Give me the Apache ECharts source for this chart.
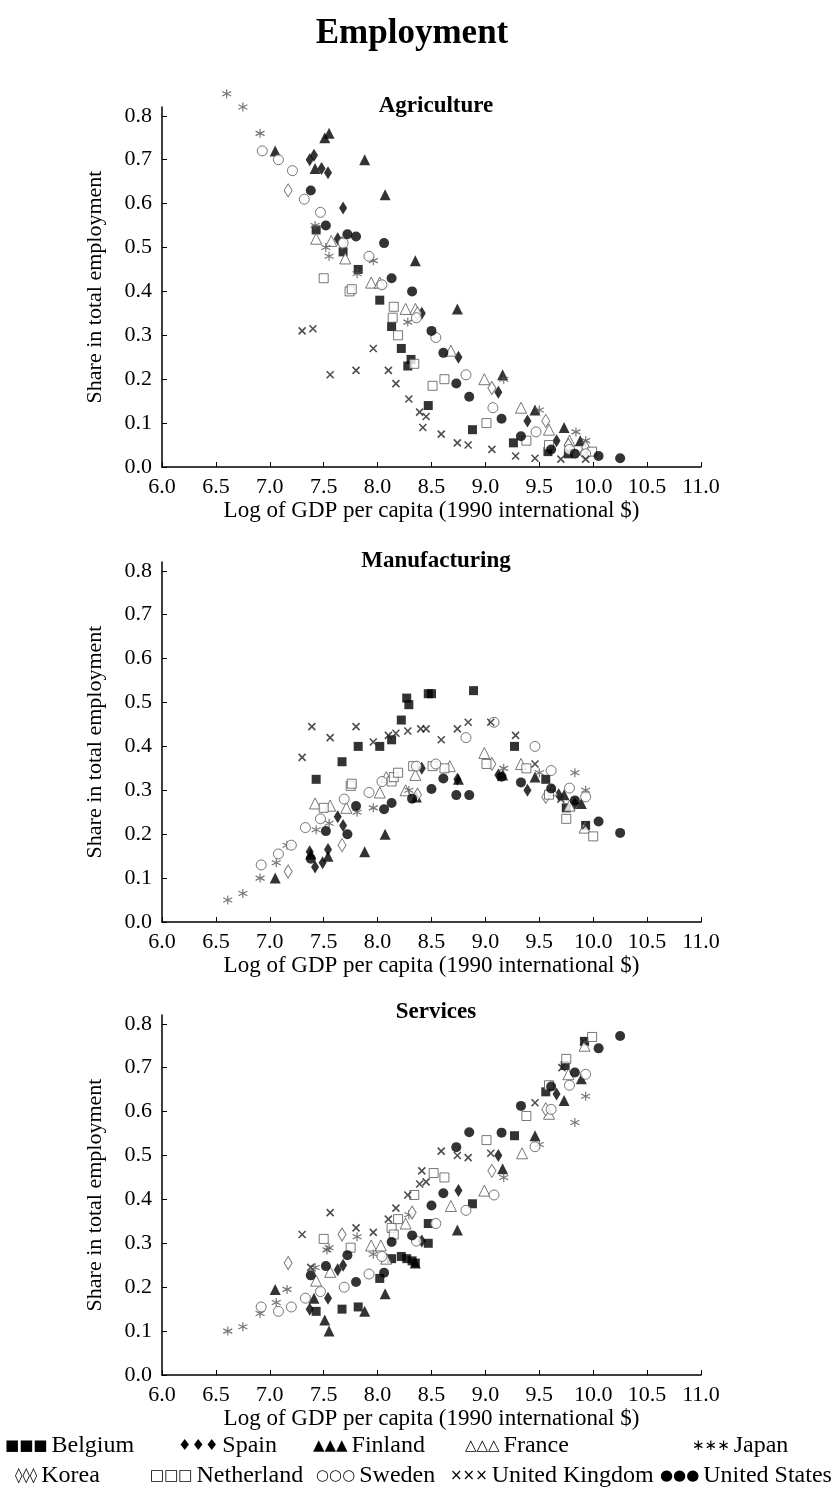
<!DOCTYPE html>
<html>
<head>
<meta charset="utf-8">
<script src="https://cdn.jsdelivr.net/npm/echarts@6/dist/echarts.min.js"></script>
<style>
html, body { margin: 0; padding: 0; background: #fff; }
#chart { width: 839px; height: 1488px; }
</style>
</head>
<body>
<div id="chart"></div>
<script>
// country names as in the legend
const countries = ['Belgium', 'Spain', 'Finland', 'France', 'Japan', 'Korea', 'Netherland', 'Sweden', 'United Kingdom', 'United States']
const xTicks = [6.0, 6.5, 7.0, 7.5, 8.0, 8.5, 9.0, 9.5, 10.0, 10.5, 11.0]
const yTicks = [0.0, 0.1, 0.2, 0.3, 0.4, 0.5, 0.6, 0.7, 0.8]
const panelTitles = ['Agriculture', 'Manufacturing', 'Services']

// ---- Agriculture [log GDP, share]
const agriBelgium = [[7.43,.54],[7.68,.49],[7.82,.45],[8.02,.38],[8.13,.32],[8.22,.27],[8.31,.245],[8.28,.23],[8.47,.14],[8.88,.085],[9.26,.055],[9.58,.035],[9.77,.03]]
const agriSpain = [[7.37,.70],[7.41,.71],[7.48,.68],[7.54,.67],[7.63,.52],[7.68,.59],[8.41,.35],[8.75,.25],[9.12,.17],[9.39,.105],[9.66,.06]]
const agriFinland = [[7.05,.72],[7.42,.68],[7.51,.75],[7.55,.76],[7.88,.70],[8.07,.62],[8.35,.47],[8.74,.36],[9.16,.21],[9.46,.13],[9.73,.09],[9.88,.06]]
const agriFrance = [[7.43,.52],[7.57,.515],[7.70,.475],[7.94,.42],[8.02,.42],[8.26,.36],[8.35,.36],[8.68,.265],[8.99,.20],[9.33,.135],[9.59,.085],[9.78,.06],[9.92,.04]]
const agriJapan = [[6.60,.85],[6.75,.82],[6.91,.76],[7.42,.55],[7.52,.50],[7.55,.48],[7.81,.44],[7.96,.47],[8.28,.33],[9.17,.20],[9.50,.13],[9.84,.08],[9.93,.06]]
const agriKorea = [[7.17,.63],[7.67,.51],[8.37,.35],[9.06,.18],[9.56,.105],[9.77,.05],[9.93,.045]]
const agriNetherland = [[7.50,.43],[7.74,.40],[7.76,.405],[8.14,.34],[8.15,.365],[8.19,.30],[8.34,.235],[8.51,.185],[8.62,.20],[9.01,.10],[9.38,.06],[9.59,.05],[9.99,.035]]
const agriSweden = [[6.93,.72],[7.08,.70],[7.21,.675],[7.32,.61],[7.47,.58],[7.68,.51],[7.92,.48],[8.04,.415],[8.36,.34],[8.54,.295],[8.82,.21],[9.07,.135],[9.47,.08],[9.78,.04],[9.93,.03]]
const agriUK = [[7.30,.31],[7.40,.315],[7.56,.21],[7.80,.22],[7.96,.27],[8.10,.22],[8.17,.19],[8.29,.155],[8.39,.125],[8.45,.115],[8.42,.09],[8.59,.075],[8.74,.055],[8.84,.05],[9.06,.04],[9.28,.025],[9.46,.02],[9.70,.018],[9.93,.018]]

// ---- Manufacturing
const manuBelgium = [[7.43,.325],[7.67,.365],[7.82,.40],[8.02,.40],[8.13,.415],[8.22,.46],[8.27,.51],[8.29,.495],[8.47,.52],[8.50,.52],[8.89,.527],[9.27,.40],[9.56,.325],[9.75,.26],[9.93,.22]]
const manuSpain = [[7.37,.16],[7.42,.125],[7.49,.135],[7.54,.165],[7.63,.24],[7.68,.22],[8.41,.35],[8.74,.325],[9.12,.335],[9.39,.30],[9.68,.29],[9.83,.27]]
const manuFinland = [[7.05,.10],[7.38,.155],[7.54,.15],[7.88,.16],[8.07,.20],[8.36,.285],[8.75,.325],[9.16,.335],[9.46,.33],[9.73,.29],[9.89,.27]]
const manuFrance = [[7.42,.27],[7.56,.265],[7.71,.26],[8.02,.295],[8.08,.33],[8.26,.30],[8.35,.335],[8.67,.355],[8.99,.385],[9.33,.36],[9.62,.30],[9.78,.265],[9.92,.215]]
const manuJapan = [[6.61,.05],[6.75,.065],[6.91,.10],[7.06,.135],[7.16,.175],[7.43,.21],[7.55,.225],[7.81,.25],[7.96,.26],[8.29,.30],[9.17,.35],[9.50,.34],[9.83,.34],[9.93,.30]]
const manuKorea = [[7.17,.115],[7.67,.175],[8.37,.29],[9.06,.36],[9.56,.285]]
const manuNetherland = [[7.50,.26],[7.75,.31],[7.76,.315],[8.13,.32],[8.15,.33],[8.19,.34],[8.33,.355],[8.51,.355],[8.62,.35],[9.01,.36],[9.38,.35],[9.59,.29],[9.75,.235],[10.00,.195]]
const manuSweden = [[6.92,.13],[7.08,.155],[7.20,.175],[7.33,.215],[7.47,.235],[7.69,.28],[7.92,.295],[8.04,.32],[8.36,.355],[8.54,.36],[8.82,.42],[9.08,.455],[9.46,.40],[9.61,.345],[9.78,.305],[9.93,.285]]
const manuUK = [[7.30,.375],[7.39,.445],[7.56,.42],[7.80,.445],[7.96,.41],[8.10,.425],[8.17,.43],[8.28,.435],[8.40,.44],[8.45,.44],[8.59,.415],[8.74,.44],[8.84,.455],[9.05,.455],[9.28,.425],[9.46,.36],[9.70,.28],[9.93,.22]]

// ---- Services
const servBelgium = [[7.43,.145],[7.67,.15],[7.82,.155],[8.02,.22],[8.13,.265],[8.22,.27],[8.27,.265],[8.32,.26],[8.35,.255],[8.47,.30],[8.47,.345],[8.88,.39],[9.27,.545],[9.56,.645],[9.74,.705],[9.92,.76]]
const servSpain = [[7.37,.15],[7.54,.175],[7.63,.24],[7.68,.25],[8.41,.305],[8.75,.42],[9.12,.50],[9.66,.64]]
const servFinland = [[7.05,.195],[7.41,.175],[7.51,.125],[7.55,.10],[7.88,.145],[8.07,.185],[8.35,.255],[8.74,.33],[9.16,.47],[9.46,.545],[9.73,.625],[9.89,.675]]
const servFrance = [[7.43,.215],[7.56,.235],[7.94,.295],[8.03,.295],[8.08,.265],[8.26,.345],[8.68,.385],[8.99,.42],[9.34,.505],[9.59,.595],[9.77,.685],[9.92,.75]]
const servJapan = [[6.61,.10],[6.75,.11],[6.91,.14],[7.06,.165],[7.16,.195],[7.42,.245],[7.53,.285],[7.55,.29],[7.81,.315],[7.96,.275],[8.29,.365],[9.17,.45],[9.50,.525],[9.83,.575],[9.93,.635]]
const servKorea = [[7.17,.255],[7.67,.32],[8.32,.37],[9.06,.465],[9.56,.605]]
const servNetherland = [[7.50,.31],[7.75,.29],[8.13,.335],[8.15,.32],[8.19,.355],[8.34,.41],[8.52,.46],[8.62,.45],[9.01,.535],[9.38,.59],[9.59,.66],[9.75,.72],[9.99,.77]]
const servSweden = [[6.92,.155],[7.08,.145],[7.20,.155],[7.33,.175],[7.47,.19],[7.69,.20],[7.92,.23],[8.04,.27],[8.36,.305],[8.54,.345],[8.82,.375],[9.08,.41],[9.46,.52],[9.61,.605],[9.78,.66],[9.93,.685]]
const servUK = [[7.30,.32],[7.38,.245],[7.56,.37],[7.80,.335],[7.96,.325],[8.10,.355],[8.17,.38],[8.28,.41],[8.39,.435],[8.45,.44],[8.41,.465],[8.59,.51],[8.74,.50],[8.84,.495],[9.05,.505],[9.46,.62],[9.71,.70],[9.91,.76]]

// ---- United States: same years in every panel
const gdpUS = [7.38, 7.52, 7.72, 7.80, 8.06, 8.13, 8.32, 8.50, 8.61, 8.73, 8.85, 9.15, 9.33, 9.61, 9.83, 10.05, 10.25]
const agriUS = [.63, .55, .53, .525, .51, .43, .40, .31, .26, .19, .16, .11, .07, .04, .03, .025, .02]
const manuUS = [.144, .207, .20, .264, .257, .271, .281, .303, .327, .289, .289, .331, .318, .304, .277, .229, .203]
const servUS = [.227, .248, .273, .212, .233, .303, .318, .386, .414, .519, .553, .552, .613, .657, .689, .744, .772]

const zip = (xs, ys) => xs.map((x, i) => [x, ys[i]])

const panels = [
    [agriBelgium, agriSpain, agriFinland, agriFrance, agriJapan, agriKorea, agriNetherland, agriSweden, agriUK, zip(gdpUS, agriUS)],
    [manuBelgium, manuSpain, manuFinland, manuFrance, manuJapan, manuKorea, manuNetherland, manuSweden, manuUK, zip(gdpUS, manuUS)],
    [servBelgium, servSpain, servFinland, servFrance, servJapan, servKorea, servNetherland, servSweden, servUK, zip(gdpUS, servUS)],
]

const FONT = 'Liberation Serif'
const ASTER = 'path://M5,0L5,10M0.67,2.5L9.33,7.5M0.67,7.5L9.33,2.5'
const CROSS = 'path://M0,0L10,10M0,10L10,0'
const open = { color: '#fff', borderColor: '#555', borderWidth: 1 }
const filled = { color: '#000' }
const markStyle = {
    'Belgium': { symbol: 'rect', symbolSize: 9, itemStyle: filled },
    'Spain': { symbol: 'diamond', symbolSize: [8, 13], itemStyle: filled },
    'Finland': { symbol: 'triangle', symbolSize: 11, itemStyle: filled },
    'France': { symbol: 'triangle', symbolSize: 11, itemStyle: open },
    'Japan': { symbol: ASTER, symbolSize: 9, itemStyle: { color: 'none', borderColor: '#555', borderWidth: 1.2 } },
    'Korea': { symbol: 'diamond', symbolSize: [8, 13], itemStyle: open },
    'Netherland': { symbol: 'rect', symbolSize: 9, itemStyle: open },
    'Sweden': { symbol: 'circle', symbolSize: 10, itemStyle: open },
    'United Kingdom': { symbol: CROSS, symbolSize: 7, itemStyle: { color: 'none', borderColor: '#222', borderWidth: 1.6 } },
    'United States': { symbol: 'circle', symbolSize: 10, itemStyle: filled },
}
const glyphs = {
    'Belgium': '■■■', 'Spain': '♦♦♦', 'Finland': '▲▲▲', 'France': '△△△', 'Japan': '∗∗∗',
    'Korea': '◊◊◊', 'Netherland': '□□□', 'Sweden': '○○○', 'United Kingdom': '×××', 'United States': '●●●',
}
const legendPos = [[0, 1434], [173, 1434], [308, 1434], [460, 1434], [687, 1434],
                   [10, 1464], [145, 1464], [311, 1464], [445, 1464], [655, 1464]]

// grid layout: axis at bottom, 0..0.82 tall
const gridTops = [107, 562, 1015]
const subTitleTops = [90, 545, 996]

const chart = echarts.init(document.getElementById('chart'))

const option = {
    backgroundColor: '#fff',
    animation: false,
    title: [
        { text: 'Employment', left: 407, top: 11, textAlign: 'center',
          textStyle: { fontFamily: FONT, fontSize: 35, fontWeight: 'bold', color: '#000' } },
    ].concat(panelTitles.map((t, i) => ({
        text: t, left: 431, top: subTitleTops[i], textAlign: 'center',
        textStyle: { fontFamily: FONT, fontSize: 23, fontWeight: 'bold', color: '#000' },
    }))),
    legend: countries.map((c, i) => ({
        data: [c],
        left: legendPos[i][0],
        top: legendPos[i][1],
        icon: 'none',
        itemWidth: 0,
        itemHeight: 10,
        padding: 0,
        selectedMode: false,
        formatter: name => '{g|' + glyphs[name] + '}' + name,
        textStyle: {
            fontFamily: FONT, fontSize: 24, color: '#000',
            rich: { g: { fontFamily: 'DejaVu Sans', fontSize: 15, color: '#000', padding: [0, 4, 0, 0] } },
        },
    })),
    grid: gridTops.map(t => ({ left: 162, top: t, width: 539, height: 360 })),
    xAxis: gridTops.map((t, i) => ({
        gridIndex: i,
        type: 'value',
        min: 6,
        max: 11,
        interval: 0.5,
        name: 'Log of GDP per capita (1990 international $)',
        nameLocation: 'middle',
        nameGap: 32,
        nameTextStyle: { fontFamily: FONT, fontSize: 23, color: '#000' },
        splitLine: { show: false },
        axisLine: { lineStyle: { color: '#000', width: 1.5 } },
        axisTick: { inside: true, length: 5, lineStyle: { color: '#000' } },
        axisLabel: {
            fontFamily: FONT, fontSize: 22, color: '#000', margin: 9,
            formatter: v => v.toFixed(1),
        },
    })),
    yAxis: gridTops.map((t, i) => ({
        gridIndex: i,
        type: 'value',
        min: 0,
        max: 0.82,
        name: 'Share in total employment',
        nameLocation: 'middle',
        nameGap: 56,
        nameTextStyle: { fontFamily: FONT, fontSize: 22, color: '#000' },
        splitLine: { show: false },
        axisLine: { show: true, lineStyle: { color: '#000', width: 1.5 } },
        axisTick: { inside: true, length: 5, customValues: yTicks, lineStyle: { color: '#000' } },
        axisLabel: {
            fontFamily: FONT, fontSize: 22, color: '#000', margin: 10,
            customValues: yTicks,
            formatter: v => v.toFixed(1),
        },
    })),
    series: [],
}

panels.forEach((panel, p) => {
    panel.forEach((data, k) => {
        const c = countries[k]
        option.series.push(Object.assign({
            name: c,
            type: 'scatter',
            xAxisIndex: p,
            yAxisIndex: p,
            clip: false,
            data: data,
        }, markStyle[c]))
    })
})

chart.setOption(option)
</script>
</body>
</html>
